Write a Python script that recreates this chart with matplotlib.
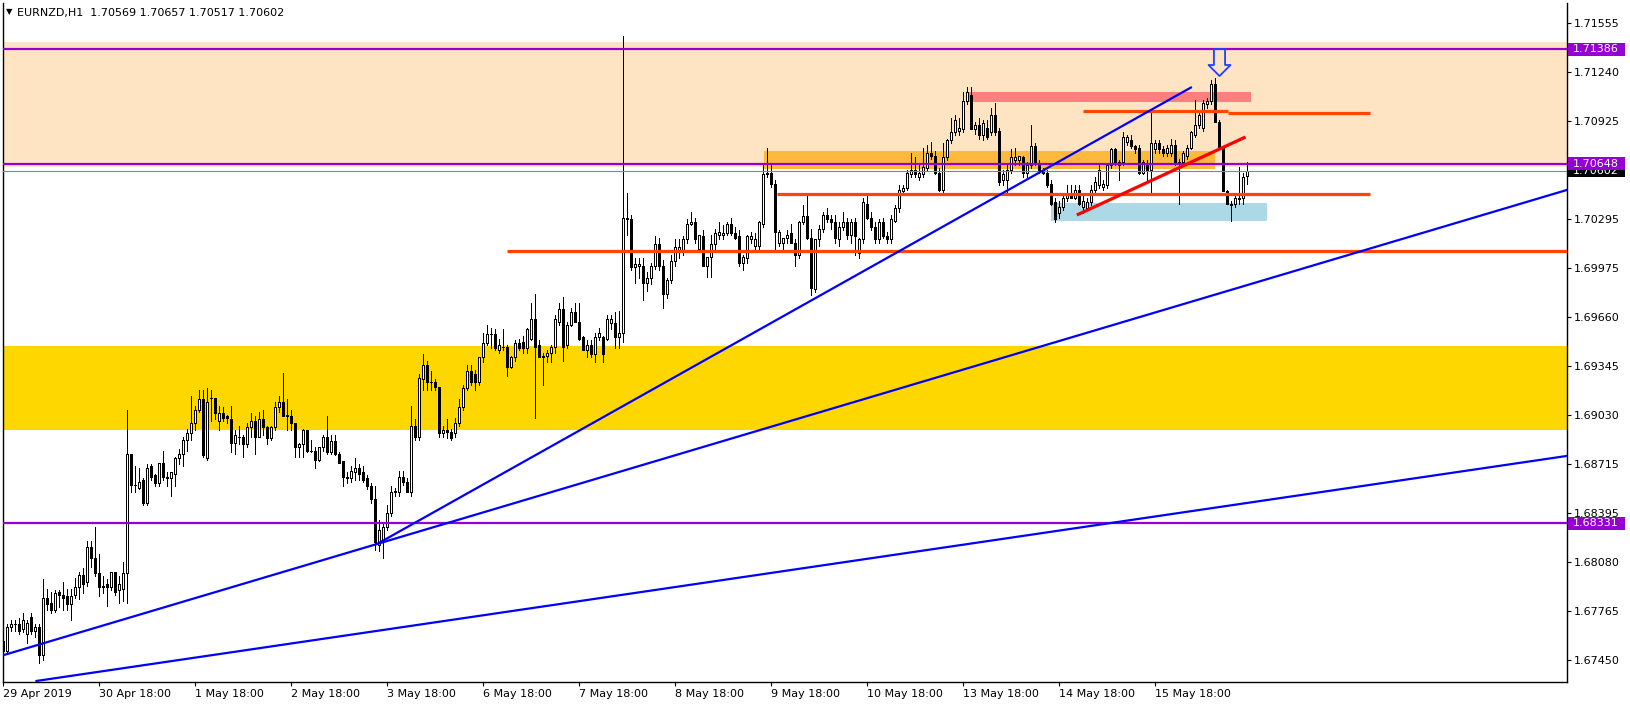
import matplotlib
matplotlib.use("Agg")
import matplotlib.pyplot as plt
import matplotlib.transforms as mtransforms
from matplotlib.patches import Rectangle
from matplotlib.path import Path
import numpy as np

plt.rcParams['font.family'] = ['DejaVu Sans']

symbol = "EURNZD,H1"

# ---- H1 candles, prices in pips (price * 1e4) ----
open_pips = [
16757,16751,16766,16768,16768,16765,16762,16773,16764,16766,16748,16785,
16782,16777,16789,16787,16786,16781,16787,16792,16800,16795,16818,16811,
16801,16793,16794,16792,16802,16790,16791,16801,16878,16858,16856,16861,
16846,16870,16864,16859,16872,16863,16862,16865,16875,16878,16887,16891,
16898,16906,16913,16875,16914,16914,16899,16904,16902,16900,16885,16889,
16889,16884,16895,16899,16889,16900,16895,16888,16895,16908,16911,16902,
16902,16898,16882,16884,16893,16880,16880,16874,16882,16889,16879,16886,
16878,16873,16863,16862,16866,16869,16866,16862,16857,16849,16819,16822,
16831,16840,16853,16853,16863,16860,16853,16896,16889,16926,16935,16924,
16924,16921,16891,16893,16892,16891,16898,16908,16920,16931,16929,16924,
16940,16949,16955,16955,16945,16947,16947,16934,16940,16949,16950,16946,
16952,16965,16948,16940,16941,16943,16947,16963,16971,16948,16961,16969,
16963,16953,16945,16948,16942,16953,16953,16952,16962,16962,16953,16956,
17030,17029,16998,16999,16999,16988,16991,16999,17013,16999,16981,16990,
17002,17008,17009,17016,17026,17027,17010,17018,16999,17005,17013,17019,
17019,17020,17026,17020,17018,17001,17004,17016,17012,17012,17026,17058,
17059,17052,17014,17014,17017,17020,17014,17006,17027,17031,17017,16984,
17016,17023,17032,17029,17027,17016,17024,17027,17019,17027,17007,17016,
17039,17030,17024,17016,17027,17018,17016,17028,17036,17047,17049,17058,
17061,17056,17058,17062,17072,17070,17059,17048,17069,17080,17085,17086,
17087,17105,17109,17087,17090,17083,17088,17085,17096,17086,17054,17054,
17061,17067,17067,17069,17059,17064,17076,17065,17061,17059,17052,17040,
17033,17037,17043,17046,17043,17048,17037,17036,17040,17048,17051,17050,
17051,17064,17074,17064,17066,17079,17080,17076,17075,17059,17065,17061,
17074,17078,17074,17072,17072,17077,17066,17066,17070,17075,17083,17090,
17088,17103,17105,17116,17092,17075,17047,17039,17039,17042,17043,17056.9]

high_pips = [
16760,16768,16771,16771,16772,16775,16771,16775,16768,16768,16797,16791,
16789,16790,16790,16795,16791,16791,16798,16802,16804,16822,16822,16831,
16813,16799,16797,16802,16802,16799,16808,16906,16878,16870,16869,16862,
16871,16871,16865,16872,16880,16866,16866,16876,16881,16889,16894,16915,
16909,16919,16919,16920,16919,16914,16909,16908,16903,16909,16893,16896,
16890,16898,16904,16902,16905,16906,16896,16896,16911,16915,16930,16913,
16906,16898,16885,16894,16893,16887,16882,16882,16890,16902,16890,16890,
16879,16873,16866,16870,16875,16871,16870,16864,16859,16857,16835,16834,
16845,16857,16856,16867,16867,16862,16909,16900,16929,16942,16938,16931,
16926,16921,16896,16900,16894,16901,16913,16922,16935,16935,16932,16940,
16956,16961,16959,16958,16952,16958,16948,16941,16951,16952,16954,16959,
16975,16981,16951,16943,16945,16948,16967,16975,16979,16963,16972,16975,
16975,16954,16951,16951,16956,16959,16954,16967,16967,16969,16970,17147,
17046,17032,17004,17004,17004,16995,17001,17018,17017,17003,16991,17006,
17016,17016,17018,17029,17034,17030,17019,17022,17005,17019,17023,17027,
17025,17027,17030,17024,17022,17006,17019,17021,17020,17028,17065,17075,
17065,17054,17022,17017,17022,17026,17016,17028,17038,17045,17023,17016,
17025,17034,17036,17032,17032,17027,17034,17030,17029,17030,17017,17043,
17046,17034,17027,17029,17030,17021,17032,17038,17051,17051,17061,17072,
17069,17064,17075,17077,17079,17073,17062,17078,17081,17094,17096,17094,
17111,17114,17114,17092,17094,17093,17093,17101,17104,17088,17061,17064,
17074,17075,17070,17070,17066,17090,17078,17067,17062,17061,17054,17043,
17041,17045,17051,17051,17051,17051,17045,17043,17051,17056,17064,17054,
17064,17075,17075,17067,17085,17083,17083,17077,17077,17067,17067,17099,
17080,17080,17076,17077,17081,17080,17068,17073,17077,17086,17106,17098,
17106,17107,17119,17120,17093,17076,17048,17041,17044,17063,17059,17065.7]

low_pips = [
16748,16750,16764,16764,16762,16763,16756,16762,16760,16743,16745,16777,
16775,16776,16779,16777,16777,16771,16785,16784,16788,16793,16805,16799,
16786,16788,16780,16790,16787,16782,16783,16782,16853,16853,16855,16845,
16845,16861,16857,16857,16861,16857,16851,16857,16871,16870,16880,16887,
16893,16905,16876,16874,16899,16900,16893,16899,16898,16879,16878,16884,
16876,16882,16889,16878,16889,16890,16884,16887,16893,16905,16902,16893,
16893,16876,16876,16876,16879,16879,16869,16873,16880,16878,16878,16877,
16872,16857,16859,16860,16861,16861,16860,16855,16846,16816,16815,16811,
16829,16838,16851,16851,16858,16853,16851,16887,16887,16919,16919,16919,
16919,16889,16889,16888,16887,16889,16896,16906,16919,16922,16919,16922,
16937,16948,16946,16945,16943,16945,16928,16933,16938,16945,16943,16943,
16951,16901,16940,16922,16937,16937,16943,16961,16938,16946,16960,16963,
16951,16945,16940,16940,16937,16951,16937,16951,16958,16946,16946,16950,
17019,16996,16988,16991,16977,16983,16987,16997,16996,16972,16978,16988,
16999,17004,17006,17014,17025,17014,17008,16999,16992,16992,17010,17016,
17016,17019,17019,17016,16999,16996,17001,17014,17010,17010,17024,17056,
17050,17009,17012,17010,17014,17014,16999,17004,17026,17016,16980,16982,
17012,17021,17027,17023,17014,17012,17022,17016,17014,17006,17004,17014,
17029,17022,17014,17014,17017,17014,17014,17027,17034,17045,17048,17056,
17056,17054,17056,17061,17068,17058,17047,17046,17067,17078,17083,17083,
17085,17103,17087,17084,17081,17080,17081,17083,17083,17051,17051,17046,
17059,17064,17064,17056,17056,17062,17064,17059,17058,17050,17038,17027,
17030,17035,17041,17043,17042,17038,17033,17035,17038,17046,17049,17048,
17049,17062,17064,17054,17064,17077,17075,17072,17058,17058,17053,17046,
17072,17072,17070,17070,17070,17064,17039,17064,17068,17074,17082,17088,
17086,17101,17103,17092,17074,17047,17039,17028,17037,17039,17039,17051.7]

close_pips = [
16751,16766,16768,16768,16764,16771,16769,16764,16766,16748,16785,16781,
16777,16788,16787,16785,16781,16786,16792,16800,16794,16818,16811,16801,
16792,16792,16792,16802,16789,16794,16801,16878,16858,16858,16860,16846,
16869,16863,16859,16872,16863,16862,16866,16875,16878,16887,16891,16898,
16906,16913,16877,16911,16914,16904,16904,16901,16901,16885,16890,16889,
16884,16895,16899,16889,16900,16895,16888,16895,16908,16911,16902,16903,
16898,16882,16884,16893,16880,16880,16874,16882,16889,16879,16886,16878,
16872,16863,16862,16867,16869,16865,16861,16857,16849,16821,16829,16831,
16840,16853,16854,16863,16860,16853,16896,16889,16927,16935,16924,16924,
16921,16891,16893,16892,16888,16898,16908,16920,16931,16924,16924,16940,
16949,16955,16955,16946,16948,16947,16934,16940,16949,16946,16946,16958,
16965,16947,16940,16941,16943,16947,16965,16971,16947,16961,16969,16963,
16952,16945,16948,16942,16953,16956,16942,16965,16965,16953,16956,17030,
17029,16998,17000,17000,16988,16991,16999,17013,16999,16981,16990,17002,
17011,17011,17016,17026,17027,17016,17019,16999,17005,17013,17020,17021,
17020,17026,17020,17017,17001,17005,17018,17018,17016,17027,17058,17059,
17052,17021,17021,17017,17019,17014,17006,17027,17031,17017,16985,17016,
17023,17032,17029,17027,17017,17024,17027,17019,17027,17018,17016,17040,
17030,17024,17016,17027,17018,17016,17029,17036,17048,17049,17059,17061,
17058,17059,17063,17072,17070,17059,17048,17069,17080,17085,17093,17088,
17105,17111,17087,17090,17083,17091,17082,17096,17085,17053,17058,17061,
17069,17069,17070,17059,17064,17076,17065,17061,17059,17051,17039,17029,
17037,17043,17046,17043,17048,17039,17041,17040,17048,17053,17061,17052,
17064,17074,17065,17066,17082,17082,17076,17074,17059,17066,17061,17078,
17078,17074,17072,17075,17077,17066,17066,17072,17075,17085,17090,17096,
17104,17105,17116,17092,17075,17047,17039,17038,17043,17043,17056,17060.2]

# ---- axis labels ----
time_label_bars = [0, 24, 48, 72, 96, 120, 144, 168, 192, 216, 240, 264, 288]
time_labels = ['29 Apr 2019', '30 Apr 18:00', '1 May 18:00', '2 May 18:00',
               '3 May 18:00', '6 May 18:00', '7 May 18:00', '8 May 18:00',
               '9 May 18:00', '10 May 18:00', '13 May 18:00', '14 May 18:00',
               '15 May 18:00']
price_ticks = [1.71555, 1.71240, 1.70925, 1.70295, 1.69975, 1.69660, 1.69345,
               1.69030, 1.68715, 1.68395, 1.68080, 1.67765, 1.67450]

# ---- drawn objects (time in bar index, price) ----
purple_levels = [1.71386, 1.70648, 1.68331]
last_price = 1.70602
zone_peach = (1.70627, 1.71434)
zone_gold = (1.68932, 1.69473)
box_orange = (190.2, 303.0, 1.70614, 1.70732)
box_pink = (241.0, 312.0, 1.71046, 1.71110)
box_blue = (262.0, 316.0, 1.70279, 1.70395)
red_levels = [(125.8, 400.0, 1.70086), (193.5, 341.7, 1.70451),
              (269.9, 306.1, 1.70988), (306.1, 341.7, 1.70978)]
red_trend = [(268.75, 1.70322), (310.2, 1.70816)]
blue_trend_a = [(0.0, 1.67481), (390.9, 1.70479)]
blue_trend_b = [(93.75, 1.68202), (296.9, 1.71139)]
blue_trend_c = [(8.3, 1.67315), (390.9, 1.68765)]
arrow_point = (303.9, 1.71304)

O = np.array(open_pips) / 1e4
H = np.array(high_pips) / 1e4
L = np.array(low_pips) / 1e4
C = np.array(close_pips) / 1e4
x = np.arange(len(C))

W, Hh = 1630, 704
fig = plt.figure(figsize=(W / 100, Hh / 100), dpi=100)
left_px, right_px, top_px, bot_px = 3, 1567, 3, 682
ax = fig.add_axes([left_px / W, 1 - bot_px / Hh, (right_px - left_px) / W,
                   (bot_px - top_px) / Hh])
ymin, ymax = 1.673082, 1.716838
ax.set_xlim(-0.075, 390.925)
ax.set_ylim(ymin, ymax)

# zones
ax.axhspan(*zone_peach, color='#FFE4C4', lw=0, zorder=0)
ax.axhspan(*zone_gold, color='#FFD700', lw=0, zorder=0)
for (x0, x1, y0, y1), col in [(box_orange, '#FDB93C'), (box_pink, '#FF7F7F'),
                              (box_blue, '#ADD8E6')]:
    ax.add_patch(Rectangle((x0, y0), x1 - x0, y1 - y0, facecolor=col,
                           edgecolor='none', zorder=1))

# candles
up = C >= O
ax.vlines(x, L, H, color='black', lw=0.72, zorder=3, antialiased=False)
ax.bar(x, np.abs(C - O), bottom=np.minimum(O, C), width=0.55,
       color=np.where(up, 'white', 'black'), edgecolor='black',
       linewidth=0.72, zorder=4, antialiased=False)

# lines
for lv in purple_levels:
    ax.axhline(lv, color='#9400D3', lw=1.6, zorder=5)
ax.axhline(last_price, color='#778899', lw=0.8, zorder=5)
for x0, x1, lv in red_levels:
    ax.plot([x0, x1], [lv, lv], color='#FF4500', lw=2.3, zorder=5,
            solid_capstyle='butt')
ax.plot(*zip(*red_trend), color='#FF0000', lw=2.3, zorder=5)
for tr in (blue_trend_a, blue_trend_b, blue_trend_c):
    ax.plot(*zip(*tr), color='#0000FF', lw=1.6, zorder=5)

# arrow marker
av = [(-0.41, 1), (0.41, 1), (0.41, -0.185), (0.81, -0.185), (0, -1),
      (-0.81, -0.185), (-0.41, -0.185), (-0.41, 1)]
codes = [Path.MOVETO] + [Path.LINETO] * 6 + [Path.CLOSEPOLY]
arrow = Path(av, codes)
ax.plot([arrow_point[0]], [arrow_point[1]], marker=arrow, markersize=19.5,
        mfc='none', mec='#2040FF', mew=1.3, zorder=6, linestyle='none')

# axes styling
ax.spines['top'].set_visible(False)
for s in ['left', 'right', 'bottom']:
    ax.spines[s].set_linewidth(1.0)
    ax.spines[s].set_color('black')
ax.yaxis.tick_right()
ax.set_yticks(price_ticks)
ax.set_yticklabels([f'{p:.5f}' for p in price_ticks])
ax.set_xticks(time_label_bars)
ax.set_xticklabels(time_labels, ha='left')
ax.tick_params(axis='both', direction='out', length=3, width=0.8,
               labelsize=8, pad=2, colors='black')

# price tags on the right axis
pos = ax.get_position()
ax_w_px = pos.width * W
px_per_unit = pos.height * Hh / (ymax - ymin)
trans = mtransforms.blended_transform_factory(ax.transAxes, ax.transData)


def tag(price, fc, z):
    h = 13 / px_per_unit
    ax.add_patch(Rectangle((1 + 1.5 / ax_w_px, price - h / 2), 57 / ax_w_px, h,
                           transform=trans, facecolor=fc, edgecolor='none',
                           clip_on=False, zorder=z))
    ax.text(1 + 6 / ax_w_px, price, f'{price:.5f}', transform=trans,
            color='white', fontsize=8, ha='left', va='center',
            clip_on=False, zorder=z + 0.5)


tag(last_price, 'black', 10)
for lv in purple_levels:
    tag(lv, '#9400D3', 12)

# header
fig.text(6 / W, 1 - 12 / Hh, '\u25BC', fontsize=6, va='center', ha='left')
hdr = f"{symbol}  {O[-1]:.5f} {H[-1]:.5f} {L[-1]:.5f} {C[-1]:.5f}"
fig.text(17 / W, 1 - 13 / Hh, hdr, fontsize=8, va='center', ha='left')

fig.savefig('out.png', dpi=100, facecolor='white')
